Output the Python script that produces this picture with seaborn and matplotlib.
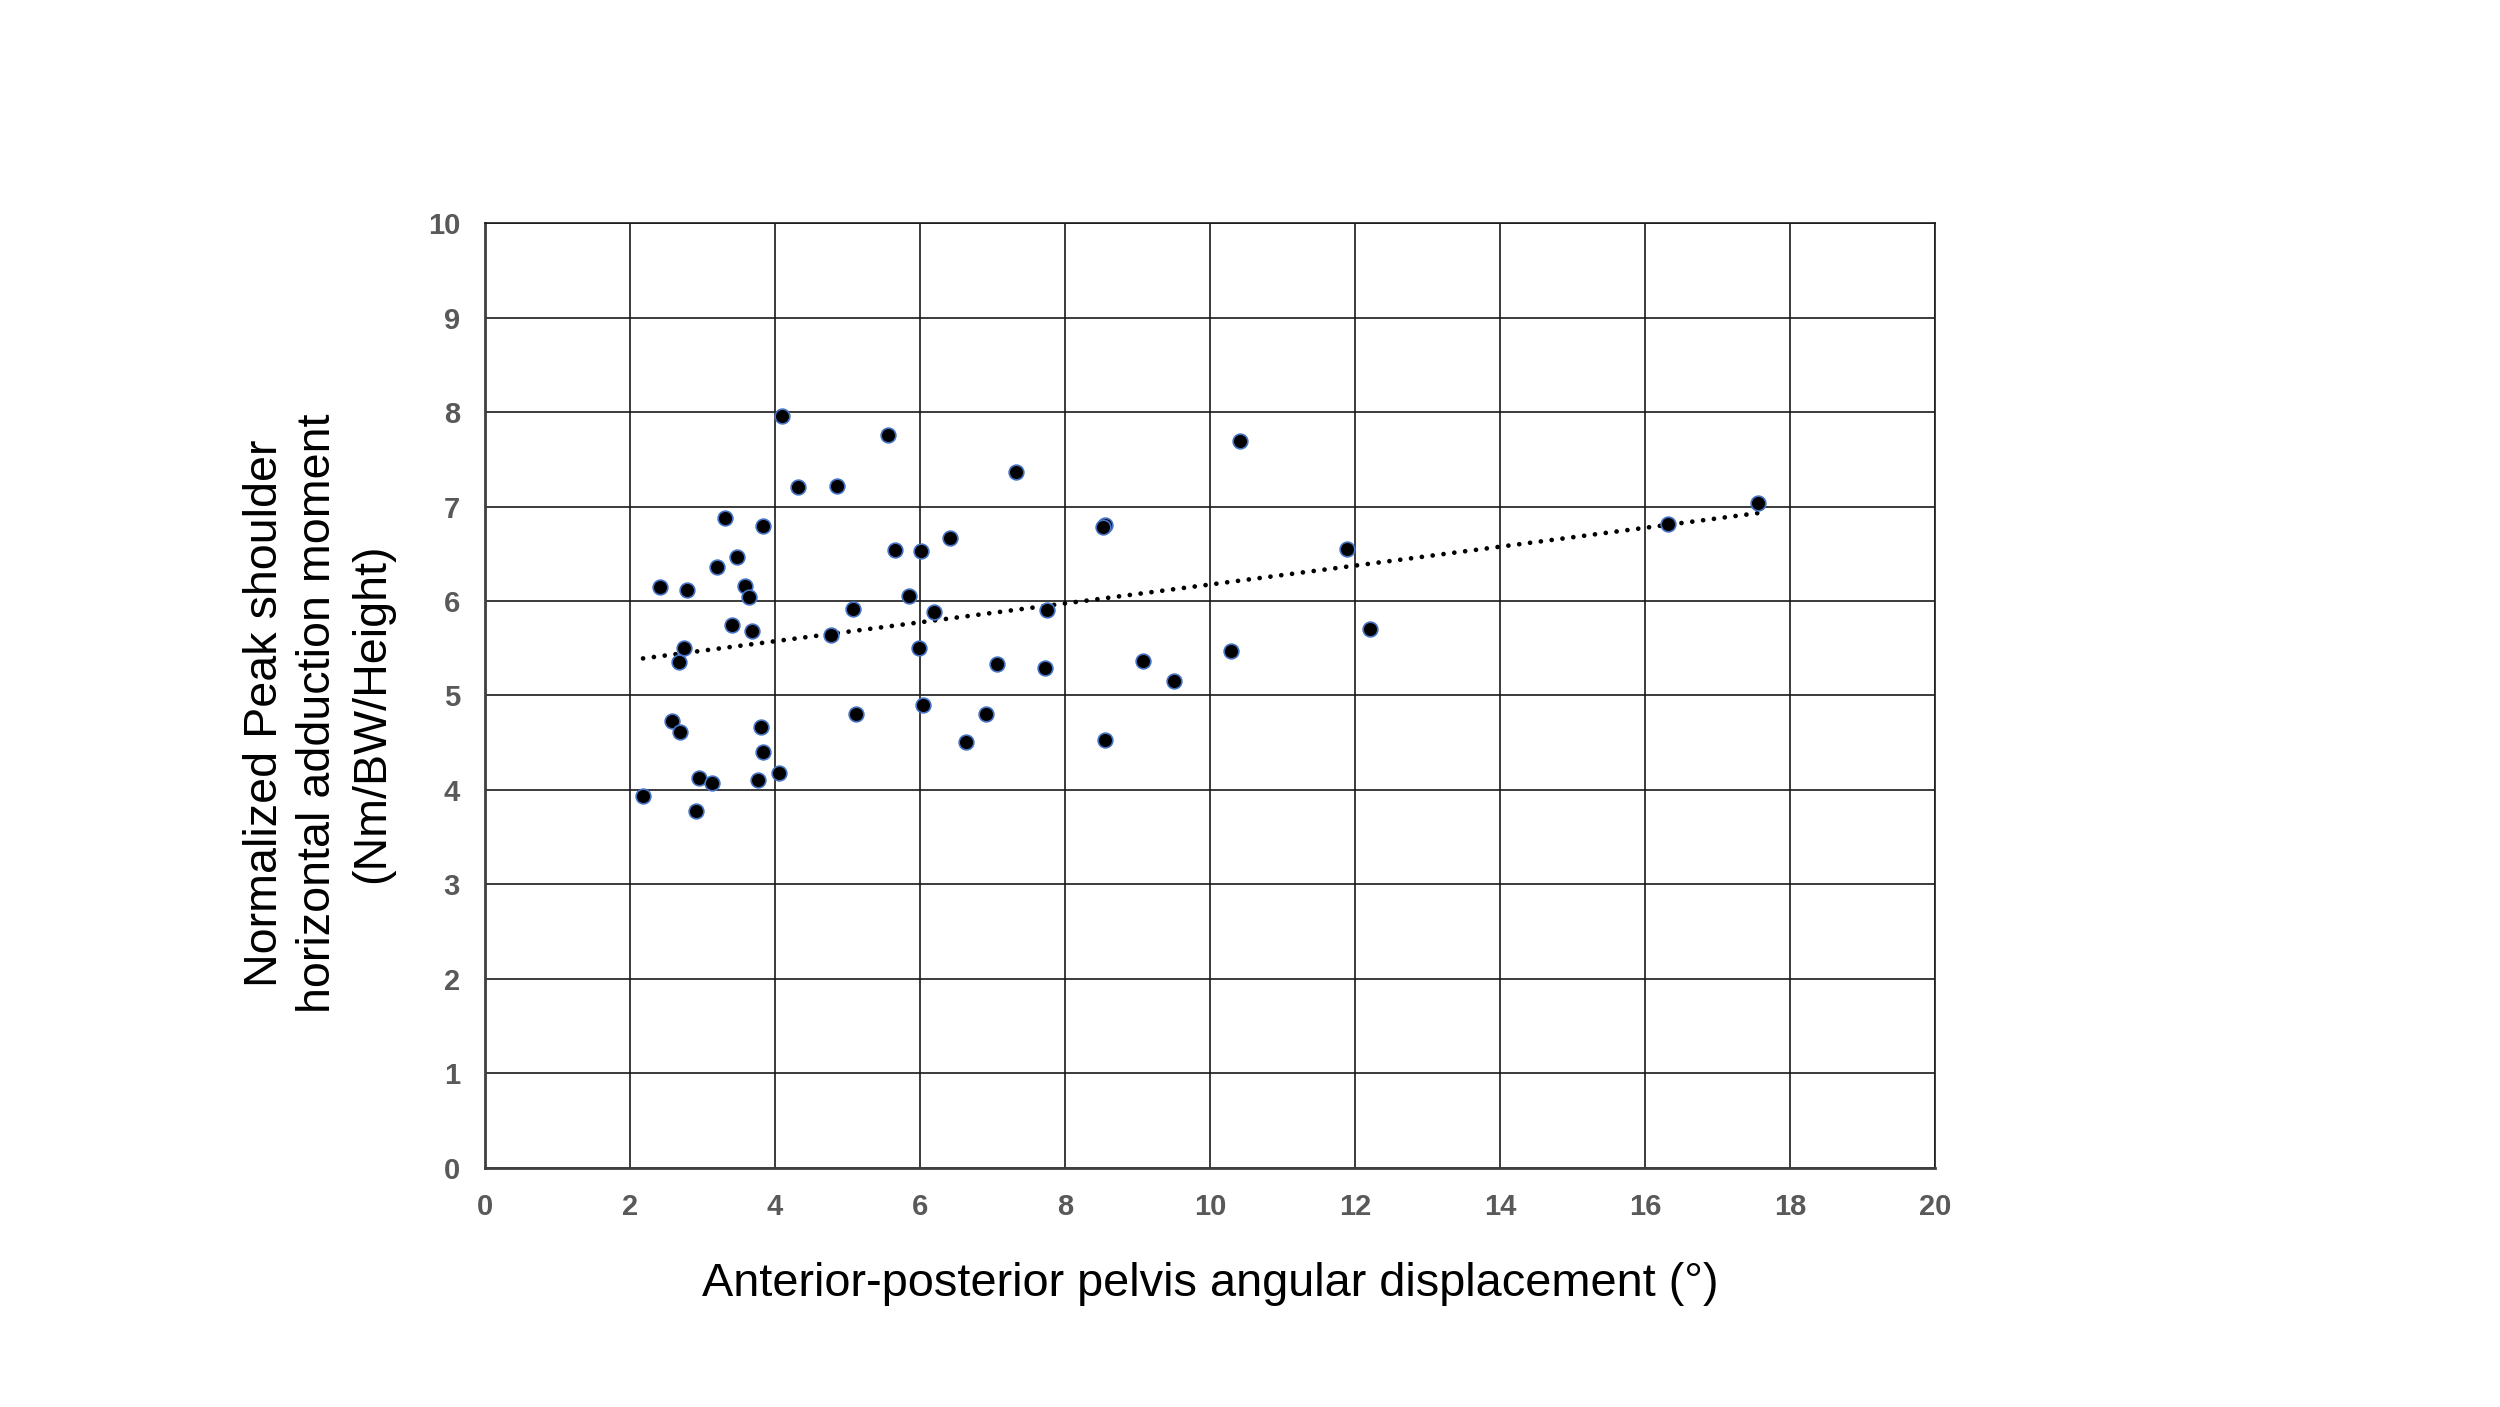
import numpy as np
import pandas as pd
import matplotlib
matplotlib.use("Agg")
import matplotlib.pyplot as plt
import seaborn as sns

# Data
pelvis_disp = [4.09, 5.56, 7.32, 4.32, 4.85, 3.31, 3.84, 5.65, 6.01, 6.42,
               3.47, 3.20, 2.42, 2.79, 3.58, 3.64, 5.85, 5.08, 6.19, 7.75,
               3.40, 3.68, 4.77, 2.74, 2.67, 5.99, 7.06, 7.73, 6.04, 5.12,
               6.91, 6.64, 2.58, 2.69, 3.80, 3.84, 4.06, 3.77, 2.95, 3.13,
               2.18, 2.91, 10.41, 8.55, 8.52, 11.89, 12.21, 10.29, 9.07, 9.51,
               8.55, 16.32, 17.56]
shoulder_moment = [7.96, 7.76, 7.37, 7.21, 7.22, 6.88, 6.79, 6.54, 6.53, 6.67,
                   6.47, 6.36, 6.15, 6.12, 6.16, 6.04, 6.05, 5.92, 5.88, 5.91,
                   5.75, 5.68, 5.64, 5.50, 5.35, 5.50, 5.33, 5.29, 4.90, 4.80,
                   4.80, 4.51, 4.73, 4.61, 4.67, 4.40, 4.18, 4.11, 4.13, 4.07,
                   3.93, 3.78, 7.70, 6.81, 6.78, 6.55, 5.70, 5.47, 5.36, 5.15,
                   4.53, 6.82, 7.04]
x_ticks = list(range(0, 21, 2))
y_ticks = list(range(0, 11, 1))

df = pd.DataFrame({"x": pelvis_disp, "y": shoulder_moment})

sns.set_theme(style="white")
plt.rcParams["font.family"] = ["Liberation Sans", "DejaVu Sans"]

fig = plt.figure(figsize=(12.5, 7.035), dpi=200)
ax = fig.add_axes([0.194, 0.1702, 0.580, 0.6710])

sns.regplot(data=df, x="x", y="y", ax=ax, scatter=False, ci=None, truncate=True,
            line_kws=dict(color="black", linewidth=1.7, linestyle=(0, (0.01, 2.3)),
                          dash_capstyle="round", zorder=3))
sns.scatterplot(data=df, x="x", y="y", ax=ax, color="black", s=28,
                edgecolor="#4472C4", linewidth=0.6, zorder=4)

ax.set_xlim(0, 20)
ax.set_ylim(0, 10)
ax.set_xticks(x_ticks)
ax.set_yticks(y_ticks)
ax.grid(True, color="#1a1a1a", linewidth=0.6)
ax.set_axisbelow(True)

for s in ["top", "right"]:
    ax.spines[s].set_visible(True)
    ax.spines[s].set_color("#1a1a1a")
    ax.spines[s].set_linewidth(0.6)
for s in ["left", "bottom"]:
    ax.spines[s].set_visible(True)
    ax.spines[s].set_color("#3f3f3f")
    ax.spines[s].set_linewidth(1.0)

ax.tick_params(axis="both", length=0, labelsize=10.5, labelcolor="#595959")
ax.tick_params(axis="y", pad=9)
ax.tick_params(axis="x", pad=9)
for lab in ax.get_xticklabels() + ax.get_yticklabels():
    lab.set_fontweight("bold")

ax.set_xlabel("Anterior-posterior pelvis angular displacement (°)", fontsize=16.9,
              color="black", labelpad=15)
ax.set_ylabel("Normalized Peak shoulder\nhorizontal adduction moment\n(Nm/BW/Height)",
              fontsize=16.8, color="black", linespacing=1.28)
ax.yaxis.set_label_coords(-0.063, 0.481)

fig.savefig("out.png", dpi=200, facecolor="white")
